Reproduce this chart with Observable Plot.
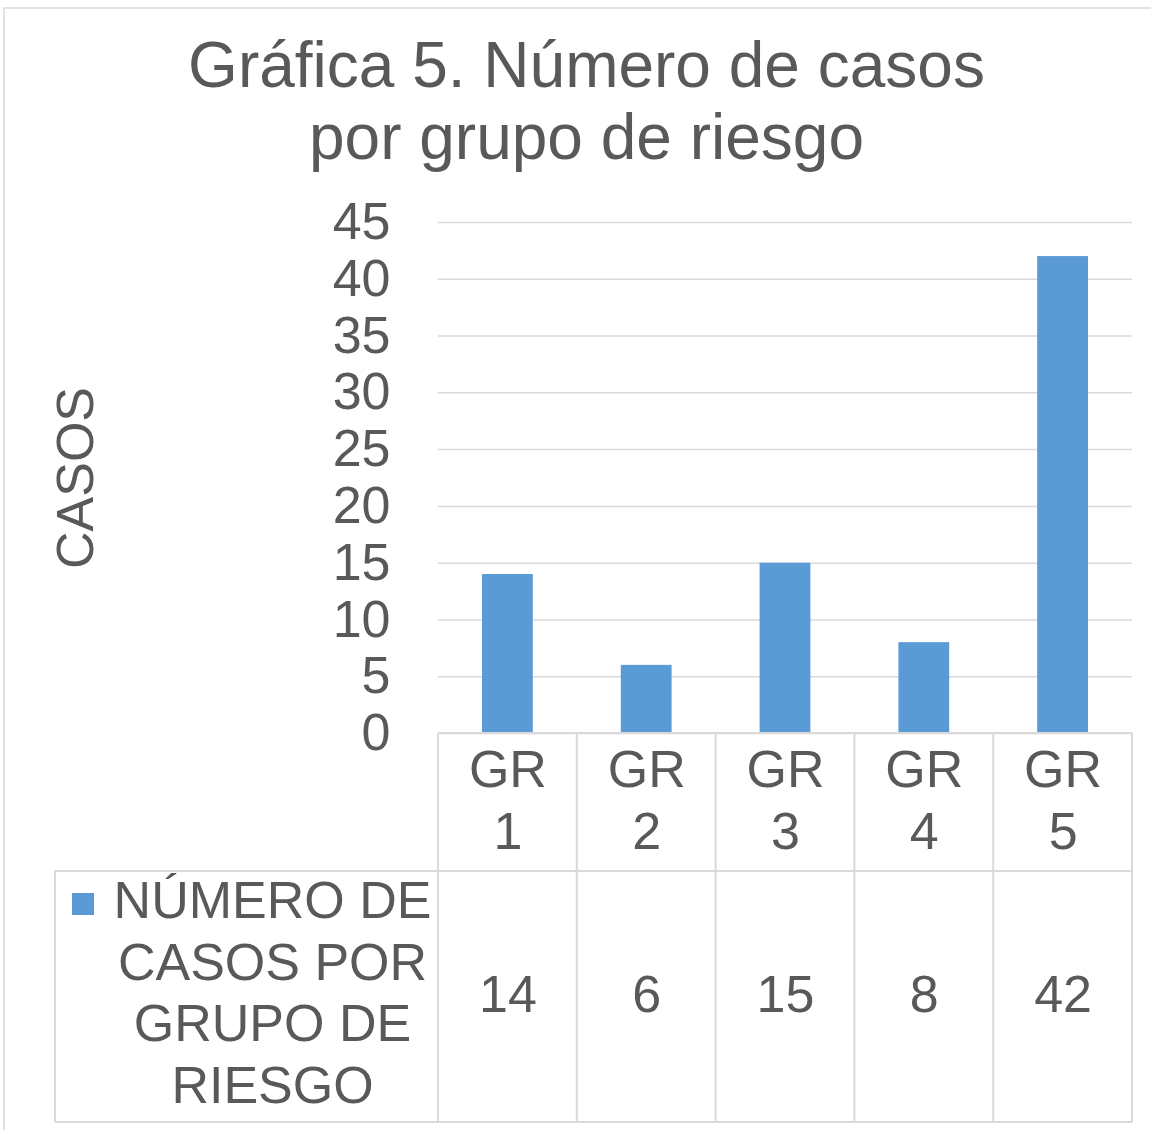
<!DOCTYPE html>
<html>
<head>
<meta charset="utf-8">
<script src="https://cdn.jsdelivr.net/npm/d3@7"></script>
<script src="https://cdn.jsdelivr.net/npm/@observablehq/plot@0.6"></script>
<style>
  html, body { margin: 0; padding: 0; background: #fff; }
  #chart svg { display: block; font-family: "Liberation Sans", Arial, sans-serif; }
</style>
</head>
<body>
<div id="chart"></div>
<script>
const titleText = "Gráfica 5. Número de casos\npor grupo de riesgo";
const yTitle = "CASOS";
const categories = ["GR 1", "GR 2", "GR 3", "GR 4", "GR 5"];
const categoryLabels = ["GR\n1", "GR\n2", "GR\n3", "GR\n4", "GR\n5"];
const values = [14, 6, 15, 8, 42];
const yTicks = [0, 5, 10, 15, 20, 25, 30, 35, 40, 45];
const seriesName = "NÚMERO DE\nCASOS POR\nGRUPO DE\nRIESGO";

const textColor = "#595959";
const gridColor = "#d9d9d9";
const barColor = "#5b9bd5";

const data = categories.map((c, i) => ({cat: c, label: categoryLabels[i], value: values[i]}));

const W = 1151, H = 1130;
const mL = 438, mR = 19, mT = 222, mB = 397;
const plotBottom = H - mB; // 733

const plot = Plot.plot({
  width: W,
  height: H,
  marginLeft: mL,
  marginRight: mR,
  marginTop: mT,
  marginBottom: mB,
  style: {fontFamily: "'Liberation Sans', Arial, sans-serif", color: textColor, background: "#fff"},
  x: {domain: categories, padding: 0, round: false, axis: null},
  y: {domain: [0, 45], axis: null},
  marks: [
    Plot.ruleY(yTicks, {stroke: gridColor, strokeWidth: 1.5}),
    Plot.axisY({ticks: yTicks, tickSize: 0, tickPadding: 48, fontSize: 52, fill: textColor, label: null, tickFormat: d => String(d)}),
    Plot.barY(data, {x: "cat", y: "value", fill: barColor, insetLeft: 44, insetRight: 44}),
    // category labels row of the data table
    Plot.text(data, {x: "cat", text: "label", frameAnchor: "bottom", lineAnchor: "top", dy: 9, fontSize: 52, lineHeight: 62 / 52, fill: textColor}),
    // value row of the data table
    Plot.text(data, {x: "cat", text: d => String(d.value), frameAnchor: "bottom", lineAnchor: "top", dy: 242, fontSize: 52, fill: textColor}),
    // legend text in the table
    Plot.text([seriesName], {frameAnchor: "bottom-left", dx: 272 - mL, dy: 874 - plotBottom, lineAnchor: "top", textAnchor: "middle", fontSize: 52, lineHeight: 61.5 / 52, fill: textColor}),
    // y axis title
    Plot.text([yTitle], {frameAnchor: "left", dx: 76 - mL, rotate: -90, fontSize: 52, fill: textColor, textAnchor: "middle"}),
    // chart title
    Plot.text([titleText], {frameAnchor: "top", dx: 586 - (mL + (W - mR)) / 2, dy: 35 - mT, lineAnchor: "top", fontSize: 64, lineHeight: 72 / 64, fill: textColor})
  ]
});

// Data table grid lines and legend key, positioned from Plot's x scale
const xs = plot.scale("x");
const bw = xs.bandwidth;
const starts = categories.map(c => xs.apply(c));
const bounds = starts.concat([starts[starts.length - 1] + bw]);
const xLeft = bounds[0], xRight = bounds[bounds.length - 1];
const rowTop = 871, rowBottom = 1122, legendLeft = 55;

const svg = d3.select(plot);
// outer chart border
svg.insert("rect", ":first-child")
  .attr("x", 4).attr("y", 8).attr("width", 1300).attr("height", 1300)
  .attr("fill", "none").attr("stroke", gridColor).attr("stroke-width", 1.5);

const g = svg.append("g").attr("stroke", gridColor).attr("stroke-width", 2);
// horizontal lines
g.append("line").attr("x1", xLeft).attr("x2", xRight).attr("y1", plotBottom).attr("y2", plotBottom);
g.append("line").attr("x1", legendLeft).attr("x2", xRight).attr("y1", rowTop).attr("y2", rowTop);
g.append("line").attr("x1", legendLeft).attr("x2", xRight).attr("y1", rowBottom).attr("y2", rowBottom);
// vertical lines
bounds.forEach(b => {
  g.append("line").attr("x1", b).attr("x2", b).attr("y1", plotBottom).attr("y2", rowBottom);
});
g.append("line").attr("x1", legendLeft).attr("x2", legendLeft).attr("y1", rowTop).attr("y2", rowBottom);

// legend key square
svg.append("rect").attr("x", 72).attr("y", 893).attr("width", 22).attr("height", 22).attr("fill", barColor);

document.getElementById("chart").appendChild(plot);
</script>
</body>
</html>
